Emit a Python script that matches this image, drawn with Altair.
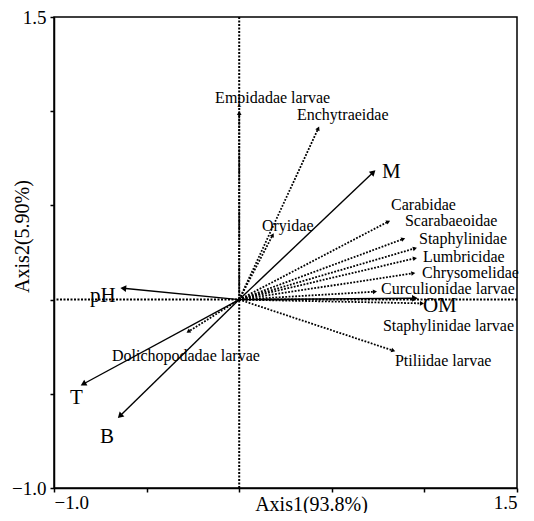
import altair as alt
import pandas as pd
import numpy as np

# Species (dotted arrows)
species = ["Empidadae larvae", "Enchytraeidae", "Oryidae", "Carabidae", "Scarabaeoidae",
           "Staphylinidae", "Lumbricidae", "Chrysomelidae", "Curculionidae larvae",
           "Staphylinidae larvae", "Ptiliidae larvae", "Dolichopodadae larvae"]
sp_x = [0.0, 0.427, 0.181, 0.805, 0.886, 0.949, 0.949, 0.940, 0.733, 0.987, 0.832, -0.275]
sp_y = [0.990, 0.909, 0.343, 0.414, 0.322, 0.272, 0.219, 0.140, 0.042, -0.020, -0.271, -0.170]
sp_lx = [-0.130, 0.312, 0.123, 0.820, 0.895, 0.971, 0.992, 0.987, 0.766, 0.776, 0.841, -0.687]
sp_ly = [1.070, 0.980, 0.391, 0.502, 0.417, 0.322, 0.226, 0.141, 0.056, -0.140, -0.326, -0.299]

# Environmental variables (solid arrows)
env = ["M", "OM", "pH", "T", "B"]
env_x = [0.724, 0.949, -0.626, -0.842, -0.644]
env_y = [0.676, 0.007, 0.060, -0.448, -0.618]
env_lx = [0.771, 0.992, -0.806, -0.914, -0.752]
env_ly = [0.677, -0.036, 0.019, -0.521, -0.729]

x_ticks = [-1.0, -0.5, 0.0, 0.5, 1.0, 1.5]
y_ticks = [-1.0, -0.5, 0.0, 0.5, 1.0, 1.5]
domain = [-1.0, 1.5]

W, H = 463, 471
sx, sy = W / 2.5, H / 2.5

def frame(names, xs, ys, lxs, lys):
    xs = np.array(xs); ys = np.array(ys)
    ang = (np.degrees(np.arctan2(xs * sx, ys * sy)) + 360) % 360
    return pd.DataFrame({"name": names, "x0": 0.0, "y0": 0.0, "x": xs, "y": ys,
                         "lx": lxs, "ly": lys, "angle": ang})

sp = frame(species, sp_x, sp_y, sp_lx, sp_ly)
ev = frame(env, env_x, env_y, env_lx, env_ly)

FONT = "Liberation Serif"
xs_ = alt.Scale(domain=domain, nice=False, zero=False)
ys_ = alt.Scale(domain=domain, nice=False, zero=False)

lab_expr = "(datum.value == -1 || datum.value == 1.5) ? format(datum.value, '.1f') : ''"

xaxis = alt.Axis(values=x_ticks, labelExpr=lab_expr, grid=False, title="Axis1(93.8%)",
                 tickSize=4, labelPadding=1, titleX=257, titleY=16, titleBaseline="middle",
                 titleAlign="center")
yaxis = alt.Axis(values=y_ticks, labelExpr=lab_expr, grid=False, title="Axis2(5.90%)",
                 tickSize=4, labelPadding=4, titleX=-32, titleY=219, titleBaseline="middle",
                 titleAlign="center", titleAngle=270)

base_axes = alt.Chart(pd.DataFrame({"x": [0.0], "y": [0.0]})).mark_rule(
    color="black", strokeWidth=2, strokeDash=[2, 1.5]
).encode(x=alt.X("x:Q", scale=xs_, axis=xaxis))

hline = alt.Chart(pd.DataFrame({"x": [0.0], "y": [0.0]})).mark_rule(
    color="black", strokeWidth=2, strokeDash=[2, 1.5]
).encode(y=alt.Y("y:Q", scale=ys_, axis=yaxis))

sp_lines = alt.Chart(sp).mark_rule(color="black", strokeWidth=1.8, strokeDash=[1.8, 1.5]).encode(
    x=alt.X("x0:Q", scale=xs_), y=alt.Y("y0:Q", scale=ys_), x2="x:Q", y2="y:Q")
ev_lines = alt.Chart(ev).mark_rule(color="black", strokeWidth=1.4).encode(
    x=alt.X("x0:Q", scale=xs_), y=alt.Y("y0:Q", scale=ys_), x2="x:Q", y2="y:Q")

sp_heads = alt.Chart(sp).mark_point(shape="triangle-up", filled=True, color="black",
                                    size=22, opacity=1).encode(
    x=alt.X("x:Q", scale=xs_), y=alt.Y("y:Q", scale=ys_), angle=alt.Angle("angle:Q", scale=None))
ev_heads = alt.Chart(ev).mark_point(shape="triangle-up", filled=True, color="black",
                                    size=45, opacity=1).encode(
    x=alt.X("x:Q", scale=xs_), y=alt.Y("y:Q", scale=ys_), angle=alt.Angle("angle:Q", scale=None))

sp_text = alt.Chart(sp).mark_text(align="left", baseline="middle", font=FONT, fontSize=16,
                                  color="black").encode(
    x=alt.X("lx:Q", scale=xs_), y=alt.Y("ly:Q", scale=ys_), text="name:N")
ev_text = alt.Chart(ev).mark_text(align="left", baseline="middle", font=FONT, fontSize=21,
                                  color="black").encode(
    x=alt.X("lx:Q", scale=xs_), y=alt.Y("ly:Q", scale=ys_), text="name:N")

chart = alt.layer(base_axes, hline, sp_lines, ev_lines, sp_heads, ev_heads, sp_text, ev_text).properties(
    width=W, height=H, autosize="none",
    padding={"left": 46, "top": 9, "right": 9, "bottom": 25}
).configure_view(stroke="black", strokeWidth=1.5).configure_axis(
    domainColor="black", domainWidth=1.5, tickColor="black", tickWidth=1.5,
    labelFont=FONT, labelFontSize=19, labelColor="black",
    titleFont=FONT, titleFontSize=20, titleFontWeight="normal", titleColor="black"
)

chart.save("out.html", embed_options={"renderer": "svg", "actions": False})
